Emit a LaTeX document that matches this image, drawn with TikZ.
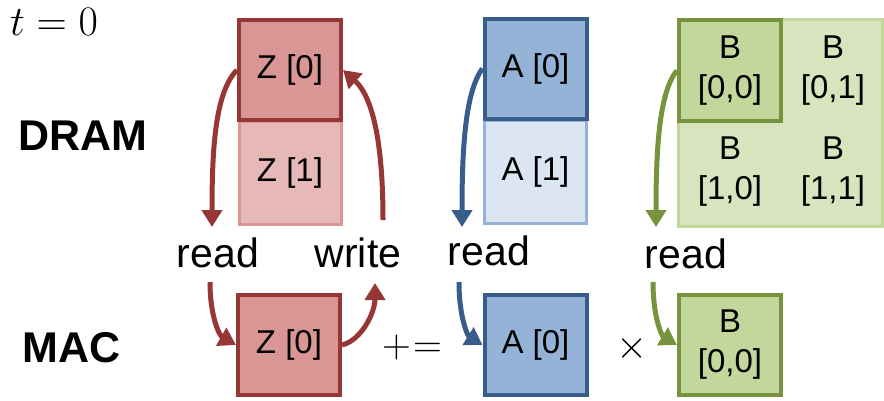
\RequirePackage{fix-cm}
\documentclass[tikz,border=0pt]{standalone}
\usepackage{fontspec}
\setmainfont{Liberation Sans}
\usetikzlibrary{arrows.meta}

\definecolor{redD}{HTML}{953735}
\definecolor{redM}{HTML}{D99694}
\definecolor{redL}{HTML}{E6B9B8}
\definecolor{blueD}{HTML}{385D8A}
\definecolor{blueM}{HTML}{95B3D7}
\definecolor{blueL}{HTML}{DCE6F2}
\definecolor{greenD}{HTML}{77933C}
\definecolor{greenM}{HTML}{C3D69B}
\definecolor{greenL}{HTML}{D7E4BD}

\tikzset{
  cell/.style={minimum width=102pt, minimum height=100pt, inner sep=0pt,
    font=\fontsize{33}{40}\selectfont, align=center},
  darkcell/.style={cell, draw=#1D, fill=#1M, line width=4pt},
  lightcell/.style={cell, draw=#1M, fill=#1L, line width=3pt},
  plaincell/.style={cell},
  word/.style={font=\fontsize{41}{48}\selectfont, inner sep=0pt, anchor=base},
  rowlabel/.style={font=\fontsize{43}{48}\selectfont\bfseries, inner sep=0pt, anchor=base west},
  op/.style={font=\fontsize{40}{48}\selectfont, inner sep=0pt},
  flow/.style={draw=#1, line width=5pt,
    -{Triangle[width=20pt,length=17pt]}},
}

\begin{document}
\begin{tikzpicture}[x=1pt, y=-1pt]
\useasboundingbox (0,0) rectangle (884,400);

% time stamp and row labels
\node[anchor=base west, inner sep=0pt, font=\fontsize{42}{48}\selectfont] (time) at (10,35) {$t=0$};
\node[rowlabel] (dram) at (18,150) {DRAM};
\node[rowlabel] (mac) at (22,362) {MAC};

% DRAM: Z column
\node[lightcell=red, minimum height=103pt] (Z1) at (290,172.5) {Z [1]};
\node[darkcell=red] (Z0) at (290,70) {Z [0]};

% DRAM: A column
\node[lightcell=blue, minimum height=103pt] (A1) at (535.5,171.5) {A [1]};
\node[darkcell=blue] (A0) at (535.5,68.5) {A [0]};

% DRAM: B matrix
\node[lightcell=green, minimum width=204pt, minimum height=207pt] (Bbg) at (780,122.5) {};
\node[plaincell] (B01) at (833,70.5) {B\\{}[0,1]};
\node[plaincell] (B10) at (730,172) {B\\{}[1,0]};
\node[plaincell] (B11) at (833,172) {B\\{}[1,1]};
\node[darkcell=green, minimum height=101pt] (B00) at (730,70.5) {B\\{}[0,0]};

% MAC operands
\node[darkcell=red] (ZM) at (289,345) {Z [0]};
\node[darkcell=blue] (AM) at (535.5,345) {A [0]};
\node[darkcell=green] (BM) at (730,345) {B\\{}[0,0]};
\node[op] (pluseq) at (412,347) {${+}\mkern1mu{=}$};
\node[op] (times) at (632,348) {$\times$};

% access labels
\node[word] (zread) at (218,267) {read};
\node[word] (zwrite) at (358,267) {write};
\node[word] (aread) at (489,265) {read};
\node[word] (bread) at (686,268) {read};

% arrow end points around the labels
\coordinate (zr1) at (212,227);
\coordinate (zr2) at (210,282);
\coordinate (zw1) at (375,283);
\coordinate (zw2) at (383,220);
\coordinate (ar1) at (462,227);
\coordinate (ar2) at (459,282);
\coordinate (br1) at (656,227);
\coordinate (br2) at (653,282);

% Z: read then write back
\draw[flow=redD] (Z0.west) .. controls (215,92) and (212,150) .. (zr1);
\draw[flow=redD] (zr2) .. controls (210,318) and (220,336) .. (ZM.west);
\draw[flow=redD] (ZM.east) .. controls (362,340) and (375,312) .. (zw1);
\draw[flow=redD] (zw2) .. controls (383,140) and (372,96) .. (Z0.east);

% A: read
\draw[flow=blueD] (A0.west) .. controls (465,92) and (462,150) .. (ar1);
\draw[flow=blueD] (ar2) .. controls (459,318) and (468,336) .. (AM.west);

% B: read
\draw[flow=greenD] (B00.west) .. controls (659,92) and (656,150) .. (br1);
\draw[flow=greenD] (br2) .. controls (653,318) and (662,336) .. (BM.west);
\end{tikzpicture}
\end{document}
